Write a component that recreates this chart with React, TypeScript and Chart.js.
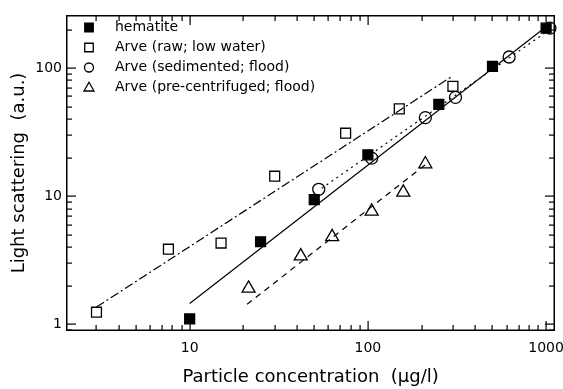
import React, { useEffect, useRef } from 'react';
import { Chart, registerables } from 'chart.js';

Chart.register(...registerables);

// ---- data ----
const hematiteX = [10, 25, 50, 100, 250, 500, 1000];
const hematiteY = [1.1, 4.4, 9.4, 21, 52, 103, 205];

const rawX = [3, 7.6, 15, 30, 75, 150, 300];
const rawY = [1.24, 3.85, 4.3, 14.3, 31, 48, 72];

const sedX = [53, 105, 210, 310, 620, 1050];
const sedY = [11.3, 19.8, 41, 59, 122, 205];

const preX = [21.4, 42, 63, 105, 158, 210];
const preY = [1.9, 3.4, 4.8, 7.6, 10.7, 17.8];

// fit lines (end points)
const hematiteFitX = [10, 1000];
const hematiteFitY = [1.45, 210];
const rawFitX = [3, 300];
const rawFitY = [1.36, 87];
const sedFitX = [55, 1050];
const sedFitY = [11.5, 200];
const preFitX = [21, 220];
const preFitY = [1.43, 18.5];

const seriesLabels = [
  'hematite',
  'Arve (raw; low water)',
  'Arve (sedimented; flood)',
  'Arve (pre-centrifuged; flood)',
];

const xTickValues = [10, 100, 1000];
const xTickLabels = ['10', '100', '1000'];
const yTickValues = [1, 10, 100];
const yTickLabels = ['1', '10', '100'];

const xTitle = 'Particle concentration  (\u03BCg/l)';
const yTitle = 'Light scattering  (a.u.)';

const FONT = "'DejaVu Sans', sans-serif";

const pts = (xs: number[], ys: number[]) => xs.map((x, i) => ({ x, y: ys[i] }));

function drawMarker(ctx: CanvasRenderingContext2D, style: string, filled: boolean, x: number, y: number, s: number) {
  ctx.save();
  ctx.lineWidth = 1.3;
  ctx.strokeStyle = '#000';
  ctx.fillStyle = filled ? '#000' : '#fff';
  ctx.beginPath();
  if (style === 'rect') {
    ctx.rect(x - s / 2, y - s / 2, s, s);
  } else if (style === 'circle') {
    ctx.arc(x, y, s / 2, 0, Math.PI * 2);
  } else if (style === 'triangle') {
    const h = s * 0.87;
    ctx.moveTo(x, y - h * 0.6);
    ctx.lineTo(x + s / 2, y + h * 0.4);
    ctx.lineTo(x - s / 2, y + h * 0.4);
    ctx.closePath();
  }
  ctx.fill();
  ctx.stroke();
  ctx.restore();
}

const framePlugin = {
  id: 'frameTicks',
  afterDraw(chart: any) {
    const { ctx, chartArea: a, scales } = chart;
    const xs = scales.x;
    const ys = scales.y;
    const L = Math.round(a.left);
    const R = Math.round(a.right);
    const T = Math.round(a.top);
    const B = Math.round(a.bottom);
    ctx.save();
    ctx.fillStyle = '#000';
    // frame
    ctx.fillRect(L - 1, T - 1, R - L + 2, 1.5);
    ctx.fillRect(L - 1, B - 0.5, R - L + 2, 1.5);
    ctx.fillRect(L - 1, T - 1, 1.5, B - T + 2);
    ctx.fillRect(R - 0.5, T - 1, 1.5, B - T + 2);
    const major = 9;
    const minor = 5;
    for (let d = -1; d <= 4; d++) {
      for (let m = 1; m <= 9; m++) {
        const v = m * Math.pow(10, d);
        const len = m === 1 ? major : minor;
        if (v >= xs.min && v <= xs.max) {
          const px = Math.round(xs.getPixelForValue(v));
          ctx.fillRect(px - 0.5, B - len, 1.2, len);
          ctx.fillRect(px - 0.5, T, 1.2, len);
        }
        if (v >= ys.min && v <= ys.max) {
          const py = Math.round(ys.getPixelForValue(v));
          ctx.fillRect(L, py - 0.5, len, 1.2);
          ctx.fillRect(R - len, py - 0.5, len, 1.2);
        }
      }
    }

    // legend
    const items = chart.data.datasets.filter((ds: any) => ds.inLegend);
    ctx.font = `14px ${FONT}`;
    ctx.fillStyle = '#000';
    ctx.textBaseline = 'middle';
    ctx.textAlign = 'left';
    items.forEach((ds: any, i: number) => {
      const y = a.top + 11.5 + i * 20;
      const size = ds.pointStyle === 'triangle' ? 10 : ds.pointStyle === 'circle' ? 9 : 8.5;
      drawMarker(ctx, ds.pointStyle, ds.pointBackgroundColor === '#000', a.left + 22, y, size);
      ctx.fillText(ds.label, a.left + 48, y);
    });
    ctx.restore();
  },
};

export default function App() {
  const ref = useRef<HTMLCanvasElement | null>(null);

  useEffect(() => {
    document.body.style.margin = '0';
    if (!ref.current) return;
    Chart.defaults.font.family = FONT;
    Chart.defaults.color = '#000';

    const markerDs = (label: string, data: any[], style: string, filled: boolean, radius: number) => ({
      label,
      data,
      inLegend: true,
      showLine: false,
      pointStyle: style,
      pointRadius: radius,
      pointHoverRadius: radius,
      pointBorderWidth: 1.3,
      pointBorderColor: '#000',
      pointBackgroundColor: filled ? '#000' : '#fff',
      clip: false,
    });
    const fitDs = (data: any[], dash: number[]) => ({
      label: '',
      data,
      inLegend: false,
      showLine: true,
      pointRadius: 0,
      borderColor: '#000',
      borderWidth: 1.2,
      borderDash: dash,
      fill: false,
      clip: false,
    });

    const chart = new Chart(ref.current, {
      type: 'scatter',
      data: {
        datasets: [
          fitDs(pts(hematiteFitX, hematiteFitY), []),
          fitDs(pts(rawFitX, rawFitY), [9, 3, 2, 3]),
          fitDs(pts(sedFitX, sedFitY), [2, 4]),
          fitDs(pts(preFitX, preFitY), [6, 5]),
          markerDs(seriesLabels[0], pts(hematiteX, hematiteY), 'rect', true, 7),
          markerDs(seriesLabels[1], pts(rawX, rawY), 'rect', false, 7),
          markerDs(seriesLabels[2], pts(sedX, sedY), 'circle', false, 6),
          markerDs(seriesLabels[3], pts(preX, preY), 'triangle', false, 7.5),
        ] as any,
      },
      options: {
        animation: false,
        responsive: true,
        maintainAspectRatio: false,
        layout: { padding: { top: 16, right: 8, left: 0, bottom: 0 } },
        plugins: { legend: { display: false }, tooltip: { enabled: false } },
        scales: {
          x: {
            type: 'logarithmic',
            min: 2.05,
            max: 1110,
            grid: { display: false, drawTicks: false },
            border: { display: false },
            afterBuildTicks: (s: any) => {
              s.ticks = xTickValues.map((v) => ({ value: v }));
            },
            afterFit: (s: any) => {
              s.height = 59;
              s.paddingLeft = 0;
              s.paddingRight = 0;
            },
            ticks: {
              autoSkip: false,
              maxRotation: 0,
              padding: 10,
              font: { size: 14, family: FONT },
              color: '#000',
              callback: (v: any) => {
                const i = xTickValues.indexOf(Number(v));
                return i >= 0 ? xTickLabels[i] : '';
              },
            },
            title: {
              display: true,
              text: xTitle,
              color: '#000',
              font: { size: 18, family: FONT },
              padding: { top: 0, bottom: 1 },
            },
          },
          y: {
            type: 'logarithmic',
            min: 0.9,
            max: 255,
            grid: { display: false, drawTicks: false },
            border: { display: false },
            afterBuildTicks: (s: any) => {
              s.ticks = yTickValues.map((v) => ({ value: v }));
            },
            afterFit: (s: any) => {
              s.width = 67;
              s.paddingTop = 0;
              s.paddingBottom = 0;
            },
            ticks: {
              autoSkip: false,
              padding: 5,
              font: { size: 14, family: FONT },
              color: '#000',
              callback: (v: any) => {
                const i = yTickValues.indexOf(Number(v));
                return i >= 0 ? yTickLabels[i] : '';
              },
            },
            title: {
              display: true,
              text: yTitle,
              color: '#000',
              font: { size: 18, family: FONT },
              padding: { top: 9, bottom: 0 },
            },
          },
        },
      },
      plugins: [framePlugin],
    });
    return () => chart.destroy();
  }, []);

  return (
    <div style={{ position: 'relative', width: 563, height: 389 }}>
      <canvas ref={ref} />
    </div>
  );
}
